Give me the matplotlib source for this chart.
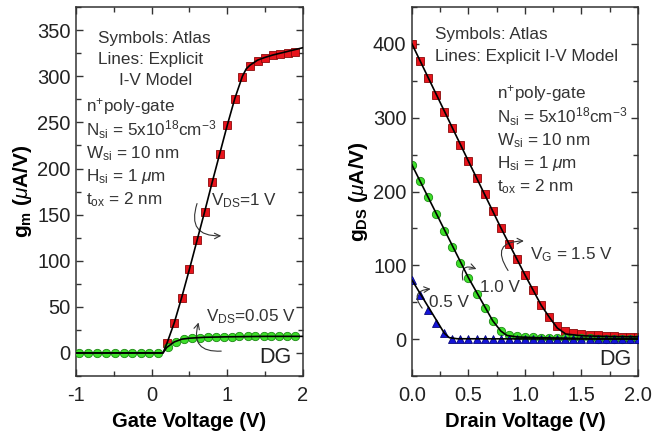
import matplotlib
matplotlib.use("Agg")
import matplotlib.pyplot as plt
from matplotlib.ticker import MultipleLocator

plt.rcParams['font.family'] = ['Liberation Sans', 'DejaVu Sans']
plt.rcParams['mathtext.fontset'] = 'custom'
plt.rcParams['mathtext.rm'] = 'Liberation Sans'
plt.rcParams['mathtext.it'] = 'Liberation Sans:italic'
plt.rcParams['mathtext.bf'] = 'Liberation Sans:bold'

# ---- transconductance vs gate voltage ----
vg_sq = [0.2, 0.3, 0.4, 0.5, 0.6, 0.7, 0.8, 0.9, 1.0, 1.1, 1.2, 1.3, 1.4, 1.5, 1.6, 1.7, 1.8, 1.9]
gm_vds1 = [11, 33, 60, 91, 122, 153, 185, 216, 247, 275, 299, 311, 317, 320, 323, 324.5, 325.5, 326.5]
vg_line1 = [-1.0, 0.15, 0.2, 0.3, 0.4, 0.5, 0.6, 0.7, 0.8, 0.9, 1.0, 1.1, 1.2, 1.25, 1.3, 1.4, 1.5, 1.6, 1.7, 1.8, 1.9, 2.0]
gm_line1 = [0, 0, 10, 33, 61, 91, 122, 153, 185, 216, 247, 276, 300, 308, 312, 317.5, 320.5, 323, 325, 327, 329, 331]

vg_ci = [-0.96, -0.84, -0.72, -0.61, -0.49, -0.37, -0.26, -0.14, -0.03, 0.09, 0.21, 0.32, 0.43, 0.53,
         0.64, 0.74, 0.85, 0.95, 1.06, 1.16, 1.27, 1.37, 1.48, 1.58, 1.69, 1.79, 1.90]
gm_vds005 = [0, 0, 0, 0, 0, 0, 0, 0, 0, 0, 6, 12, 15, 16, 16.5, 17, 17, 17.5, 17.5, 18, 18, 18, 18, 18, 18, 18, 18]
vg_line2 = [-1.0, 0.15, 0.2, 0.3, 0.4, 0.5, 0.7, 1.0, 1.5, 2.0]
gm_line2 = [0, 0, 6, 12, 15, 16, 17, 17.5, 18, 18]

# ---- output conductance vs drain voltage ----
vd = [0.0, 0.071, 0.143, 0.214, 0.286, 0.357, 0.429, 0.5, 0.571, 0.643, 0.714, 0.786, 0.857, 0.929, 1.0,
      1.071, 1.143, 1.214, 1.286, 1.357, 1.429, 1.5, 1.571, 1.643, 1.714, 1.786, 1.857, 1.929, 2.0]
gds_vg15 = [400, 377, 354, 331, 308, 286, 263, 241, 219, 197, 174, 151, 129, 108, 87,
            66, 46, 30, 18, 11, 8, 6.5, 5.5, 5, 4.5, 4, 3.5, 3.5, 3]
gds_vg10 = [236, 214, 192, 170, 147, 125, 103, 83, 61, 42, 25, 11, 6, 4, 3,
            2.5, 2, 1.5, 1.5, 1, 1, 1, 1, 0.5, 0.5, 0.5, 0.5, 0.5, 0.5]
gds_vg05 = [80, 60, 40, 22, 8, 0.5, 0, 0, 0, 0, 0, 0, 0, 0, 0,
            0, 0, 0, 0, 0, 0, 0, 0, 0, 0, 0, 0, 0, 0]
vd_line15 = [0.0, 0.5, 0.786, 1.0, 1.143, 1.214, 1.286, 1.36, 1.5, 1.75, 2.0]
gds_line15 = [400, 241, 151, 87, 46, 30, 15, 7, 4.5, 3.5, 3]
vd_line10 = [0.0, 0.5, 0.714, 0.786, 0.84, 0.93, 1.1, 1.5, 2.0]
gds_line10 = [236, 83, 25, 11, 5, 3, 2, 1, 0.5]
vd_line05 = [0.0, 0.286, 0.33, 0.4, 2.0]
gds_line05 = [80, 8, 2, 0.5, 0]

RED = '#e8141c'
GREEN = '#3ee02a'
BLUE = '#1414d8'
TXT = '#333333'
FS = 12.3

params_txt = [r'n$^{+}$poly-gate',
              r'N$_{\rm si}$ = 5x10$^{18}$cm$^{-3}$',
              r'W$_{\rm si}$ = 10 nm',
              r'H$_{\rm si}$ = 1 $\mu$m',
              r't$_{\rm ox}$ = 2 nm']


def style_axes(ax):
    for sp in ax.spines.values():
        sp.set_linewidth(1.1)
        sp.set_color(TXT)
    ax.tick_params(which='both', direction='in', top=True, right=True,
                   labelsize=14.5, colors=TXT, labelcolor='#222222')
    ax.tick_params(which='major', length=5, width=1)
    ax.tick_params(which='minor', length=3.5, width=1)
    ax.tick_params(axis='x', which='major', pad=7)
    ax.tick_params(axis='y', which='major', pad=4)


fig = plt.figure(figsize=(6.52, 4.33), dpi=100)
ax1 = fig.add_axes([0.1166, 0.1316, 0.348, 0.852])
ax2 = fig.add_axes([0.6319, 0.1316, 0.3466, 0.852])

# left panel
ax1.plot(vg_sq, gm_vds1, 's', color=RED, mec='#8a0a0a', mew=0.6, ms=5.5, zorder=2)
ax1.plot(vg_ci, gm_vds005, 'o', color=GREEN, mec='#1d8a14', mew=0.6, ms=6, zorder=3)
ax1.plot(vg_line1, gm_line1, '-', color='black', lw=1.2, zorder=4)
ax1.plot(vg_line2, gm_line2, '-', color='black', lw=1.2, zorder=4)
ax1.set_xlim(-1, 2)
ax1.set_ylim(-25, 375)
ax1.xaxis.set_major_locator(MultipleLocator(1))
ax1.xaxis.set_minor_locator(MultipleLocator(0.5))
ax1.yaxis.set_major_locator(MultipleLocator(50))
ax1.yaxis.set_minor_locator(MultipleLocator(25))
ax1.set_xticks([-1, 0, 1, 2])
ax1.set_xticklabels(['-1', '0', '1', '2'])
style_axes(ax1)
ax1.set_xlabel('Gate Voltage (V)', fontsize=14.5, fontweight='bold', labelpad=5)
ax1.set_ylabel(r'$\mathbf{g_m}$ $\mathbf{(}\mathit{\mu}\mathbf{A/V)}$', fontsize=15, labelpad=2)

ax1.text(0.095, 0.915, 'Symbols: Atlas', transform=ax1.transAxes, fontsize=FS, color=TXT, va='center')
ax1.text(0.095, 0.858, 'Lines: Explicit', transform=ax1.transAxes, fontsize=FS, color=TXT, va='center')
ax1.text(0.19, 0.80, 'I-V Model', transform=ax1.transAxes, fontsize=FS, color=TXT, va='center')
for i, t in enumerate(params_txt):
    ax1.text(0.045, 0.73 - i * 0.063, t, transform=ax1.transAxes, fontsize=FS, color=TXT, va='center')

ax1.text(0.595, 0.475, r'V$_{\rm DS}$=1 V', transform=ax1.transAxes, fontsize=FS, color=TXT, va='center')
ax1.text(0.575, 0.16, r'V$_{\rm DS}$=0.05 V', transform=ax1.transAxes, fontsize=FS, color=TXT, va='center')
ax1.text(0.95, 0.05, 'DG', transform=ax1.transAxes, fontsize=15.5, color='#222222', ha='right', va='center')

arc = dict(arrowstyle='->', color=TXT, lw=0.8, shrinkA=0, shrinkB=0)
ax1.annotate('', xy=(0.92, 127), xytext=(0.60, 162),
             arrowprops=dict(arc, connectionstyle='arc3,rad=0.7'))
ax1.annotate('', xy=(0.62, 33), xytext=(0.92, 2),
             arrowprops=dict(arc, connectionstyle='arc3,rad=-0.7'))

# right panel
ax2.plot(vd, gds_vg15, 's', color=RED, mec='#8a0a0a', mew=0.6, ms=5.5, zorder=2)
ax2.plot(vd, gds_vg10, 'o', color=GREEN, mec='#1d8a14', mew=0.6, ms=6, zorder=2)
ax2.plot(vd, gds_vg05, '^', color=BLUE, mec='#08087a', mew=0.6, ms=6, zorder=3)
ax2.plot(vd_line15, gds_line15, '-', color='black', lw=1.2, zorder=4)
ax2.plot(vd_line10, gds_line10, '-', color='black', lw=1.2, zorder=4)
ax2.plot(vd_line05, gds_line05, '-', color='black', lw=1.2, zorder=4)
ax2.set_xlim(0, 2)
ax2.set_ylim(-50, 450)
ax2.xaxis.set_major_locator(MultipleLocator(0.5))
ax2.xaxis.set_minor_locator(MultipleLocator(0.25))
ax2.yaxis.set_major_locator(MultipleLocator(100))
ax2.yaxis.set_minor_locator(MultipleLocator(50))
ax2.xaxis.set_major_formatter(plt.FormatStrFormatter('%.1f'))
style_axes(ax2)
ax2.set_xlabel('Drain Voltage (V)', fontsize=14.5, fontweight='bold', labelpad=5)
ax2.set_ylabel(r'$\mathbf{g_{DS}}$ $\mathbf{(}\mathit{\mu}\mathbf{A/V)}$', fontsize=15, labelpad=2)

ax2.text(0.10, 0.925, 'Symbols: Atlas', transform=ax2.transAxes, fontsize=FS, color=TXT, va='center')
ax2.text(0.10, 0.866, 'Lines: Explicit I-V Model', transform=ax2.transAxes, fontsize=FS, color=TXT, va='center')
for i, t in enumerate(params_txt):
    ax2.text(0.375, 0.765 - i * 0.063, t, transform=ax2.transAxes, fontsize=FS, color=TXT, va='center')

ax2.text(0.52, 0.33, r'V$_{\rm G}$ = 1.5 V', transform=ax2.transAxes, fontsize=FS, color=TXT, va='center')
ax2.text(0.30, 0.24, '1.0 V', transform=ax2.transAxes, fontsize=FS, color=TXT, va='center')
ax2.text(0.075, 0.20, '0.5 V', transform=ax2.transAxes, fontsize=FS, color=TXT, va='center')
ax2.text(0.97, 0.045, 'DG', transform=ax2.transAxes, fontsize=15.5, color='#222222', ha='right', va='center')

ax2.annotate('', xy=(0.99, 133), xytext=(0.85, 93),
             arrowprops=dict(arc, connectionstyle='arc3,rad=-0.9'))
ax2.annotate('', xy=(0.57, 95), xytext=(0.45, 80),
             arrowprops=dict(arc, connectionstyle='arc3,rad=-0.9'))
ax2.annotate('', xy=(0.165, 68), xytext=(0.09, 42),
             arrowprops=dict(arc, connectionstyle='arc3,rad=-0.9'))

fig.savefig('out.png', dpi=100)
